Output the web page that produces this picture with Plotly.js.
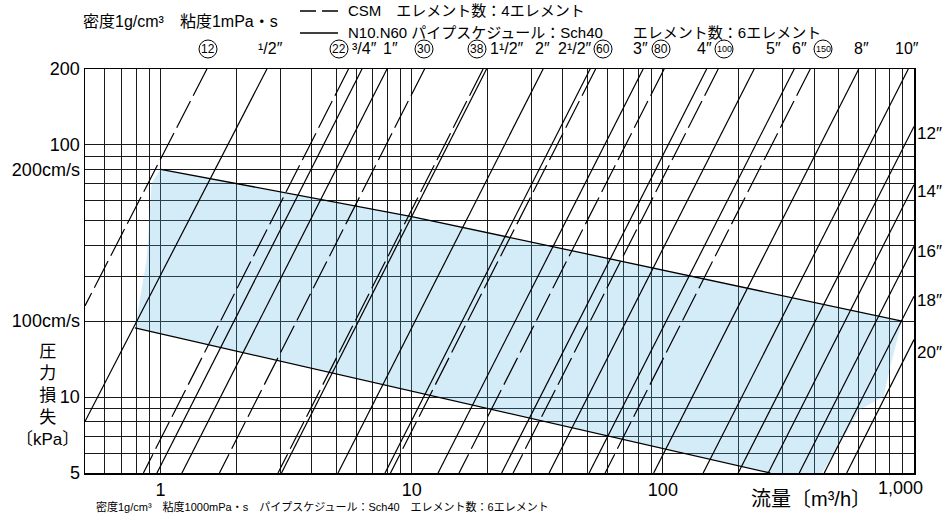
<!DOCTYPE html>
<html><head><meta charset="utf-8">
<script src="https://cdn.plot.ly/plotly-3.0.1.min.js"></script>
<style>html,body{margin:0;padding:0;background:#fff}#chart{width:945px;height:513px}</style>
</head><body><div id="chart"></div>
<script>
// ---------------- data ----------------
const xLabelVals = [1, 10, 100];
const xLabelText = ["1", "10", "100"];
const xGridVals = [0.6,0.7,0.8,0.9,2,3,4,5,6,7,8,9,20,30,40,50,60,70,80,90,200,300,400,500,600,700,800,900];
const yLabelVals = [5, 10, 20, 80, 100, 200];
const yLabelText = ["5", "10", "100cm/s", "200cm/s", "100", "200"];
const yGridVals = [6,7,8,9,30,40,50,60,70,90];

// pipe lines: upper end (flowA, lossA) and lower end (flowB, lossB)
const pipeNames  = ["⑫","1/2″","㉒","3/4″","1″","㉚","㊳","1 1/2″","2″","2 1/2″","60","3″","80","4″","100","5″","6″","150","8″","10″","12″","14″","16″","18″","20″"];
const pipeSeries = ["CSM","N","CSM","N","N","CSM","CSM","N","N","N","CSM","N","CSM","N","CSM","N","N","CSM","N","N","N","N","N","N","N"];
const flowA = [1.529,2.651,5.601,6.339,7.972,11.25,19.24,19.86,33.36,51.33,53.99,83.46,101.2,149.4,166.1,231.0,333.5,386.3,602.6,949.2,1000,1000,1000,1000,1000];
const lossA = [200,200,200,200,200,200,200,200,200,200,200,200,200,200,200,200,200,200,200,200,118.4,69.5,39.6,25.1,16.9];
const flowB = [0.5,0.5,0.854,0.967,1.216,1.715,2.934,3.029,5.087,7.828,8.232,12.73,15.43,22.80,25.33,35.24,50.86,58.90,91.91,144.7,199.5,262.8,349.2,439.1,539.5];
const lossB = [23.0,8.0,5,5,5,5,5,5,5,5,5,5,5,5,5,5,5,5,5,5,5,5,5,5,5];

// recommended velocity band (200 cm/s upper, 100 cm/s lower)
const upperFlow = [1, 10, 896];
const upperLoss = [80, 52, 20];
const lowerFlow = [0.79, 267.6];
const lowerLoss = [18.8, 5];
const bandFlow = [1, 10, 896, 804, 757, 609, 430, 267.6, 0.79, 0.814, 0.88, 0.921, 1];
const bandLoss = [80, 52, 20, 13.2, 10.05, 8.9, 5, 5, 18.8, 22.2, 35, 70.6, 80];

// top labels
const topLabels = ["12","¹/2″","22","³/4″","1″","30","38","1¹/2″","2″","2¹/2″","60","3″","80","4″","100","5″","6″","150","8″","10″"];
const topCircled = [true,false,true,false,false,true,true,false,false,false,true,false,true,false,true,false,false,true,false,false];
const rightLabels = ["12″","14″","16″","18″","20″"];

// ---------------- layout helpers ----------------
const FONT = "'Liberation Sans', 'Noto Sans CJK JP', sans-serif";
const L = 85, R = 914, T = 69, B = 473;
const px = x => (x - L) / (R - L);
const py = y => (B - y) / (B - T);

const topLabelX = [208,270,339,364,390,424,477,507,542,575,603,640,661,704,724,773,799,823,861,907];
const rightLabelY = [133,191,252,300,352];

// ---------------- traces ----------------
const traces = [];
traces.push({
  x: bandFlow, y: bandLoss, mode: 'lines', fill: 'toself',
  fillcolor: 'rgba(83,175,227,0.25)', line: {width: 0}, hoverinfo: 'skip', showlegend: false
});
for (let i = 0; i < pipeNames.length; i++) {
  traces.push({
    x: [flowA[i], flowB[i]], y: [lossA[i], lossB[i]], mode: 'lines', name: pipeNames[i],
    line: {color: '#000', width: 1.2, dash: pipeSeries[i] === 'CSM' ? '30px,6px' : 'solid'},
    hoverinfo: 'skip', showlegend: false
  });
}
traces.push({x: upperFlow, y: upperLoss, mode: 'lines', line: {color: '#000', width: 1.3}, hoverinfo: 'skip', showlegend: false});
traces.push({x: lowerFlow, y: lowerLoss, mode: 'lines', line: {color: '#000', width: 1.3}, hoverinfo: 'skip', showlegend: false});

// ---------------- annotations & shapes ----------------
const ann = [];
const shapes = [];
const txt = (text, x, y, size, xanchor) => ann.push({
  text, x: px(x), y: py(y), xref: 'paper', yref: 'paper', showarrow: false, borderpad: 0,
  xanchor: xanchor || 'center', yanchor: 'middle', font: {family: FONT, size, color: '#000'}
});

txt('密度1g/cm³　粘度1mPa・s', 82, 22, 16, 'left');
txt('CSM　エレメント数：4エレメント', 347, 10, 15, 'left');
txt('N10.N60 パイプスケジュール：Sch40　　エレメント数：6エレメント', 347, 33, 15, 'left');
shapes.push({type: 'line', xref: 'paper', yref: 'paper', x0: px(300), x1: px(338), y0: py(11), y1: py(11), line: {color: '#000', width: 1.3, dash: '16px,6px'}});
shapes.push({type: 'line', xref: 'paper', yref: 'paper', x0: px(300), x1: px(338), y0: py(33), y1: py(33), line: {color: '#000', width: 1.3}});

topLabels.forEach((t, i) => {
  const x = topLabelX[i];
  if (topCircled[i]) {
    txt(t, x, 49, t.length > 2 ? 9 : 12);
    shapes.push({type: 'circle', xref: 'paper', yref: 'paper', xsizemode: 'pixel', ysizemode: 'pixel',
      xanchor: px(x), yanchor: py(49), x0: -9, x1: 9, y0: -9, y1: 9, line: {color: '#000', width: 1}});
  } else {
    txt(t, x, 49, 16);
  }
});
rightLabels.forEach((t, i) => txt(t, 916, rightLabelY[i], 17, 'left'));

txt('1,000', 900, 488, 18);
txt('圧<br>力<br>損<br>失<br>〔kPa〕', 47, 395, 17);
txt('流量〔m³/h〕', 811, 499, 20);
txt('密度1g/cm³　粘度1000mPa・s　パイプスケジュール：Sch40　エレメント数：6エレメント', 95, 506, 11, 'left');

const axisCommon = {
  type: 'log', showgrid: true, gridcolor: '#1a1a1a', gridwidth: 1, zeroline: false,
  showline: true, mirror: true, linecolor: '#000', linewidth: 1.5, ticks: '',
  tickmode: 'array', tickfont: {family: FONT, size: 18, color: '#000'}
};
const layout = {
  width: 945, height: 513,
  margin: {l: L, r: 945 - R, t: T, b: 513 - B, pad: 0},
  paper_bgcolor: '#fff', plot_bgcolor: '#fff', showlegend: false,
  xaxis: Object.assign({}, axisCommon, {
    range: [Math.log10(0.5), 3], tickvals: xLabelVals, ticktext: xLabelText,
    minor: {tickmode: 'array', tickvals: xGridVals, showgrid: true, gridcolor: '#1a1a1a', gridwidth: 1, ticks: ''}
  }),
  yaxis: Object.assign({}, axisCommon, {
    range: [Math.log10(5), Math.log10(200)], tickvals: yLabelVals, ticktext: yLabelText,
    minor: {tickmode: 'array', tickvals: yGridVals, showgrid: true, gridcolor: '#1a1a1a', gridwidth: 1, ticks: ''}
  }),
  annotations: ann, shapes: shapes
};
Plotly.newPlot('chart', traces, layout, {displayModeBar: false, staticPlot: true});
</script>
</body></html>
